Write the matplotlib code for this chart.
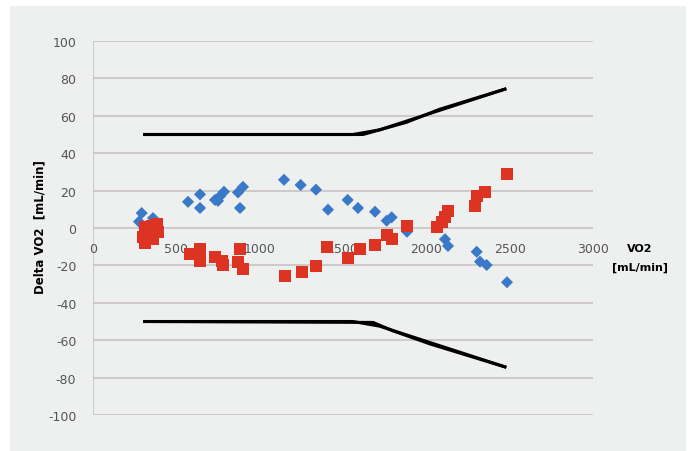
import matplotlib
matplotlib.use("Agg")
import matplotlib.pyplot as plt
from matplotlib.patches import Rectangle

# ── data ─────────────────────────────────────────────────────────────────────
blue_x = [292, 276, 360, 570, 642, 642, 732, 762, 786, 750, 870, 900, 882,
          1146, 1246, 1338, 1410, 1528, 1590, 1692, 1762, 1792, 1884,
          2112, 2130, 2302, 2322, 2362, 2484]
blue_y = [8, 3.4, 5.3, 14, 18, 10.7, 15, 17, 19.4, 14.5, 19, 22, 10.7,
          25.8, 23, 20.5, 9.8, 15, 10.7, 8.7, 3.9, 5.7, -2,
          -6, -9.6, -12.7, -18, -19.8, -29]

red_x = [300, 312, 354, 384, 390, 360, 330, 312,
         582, 642, 642, 732, 774, 780, 882, 870, 900,
         1152, 1252, 1338, 1402, 1530, 1602, 1692, 1762, 1792, 1884,
         2062, 2092, 2112, 2130, 2292, 2302, 2352, 2482]
red_y = [-5, -8, 1, 2, -2, -6, -1.6, 0.5,
         -14, -11, -17.5, -15.7, -17.6, -19.8, -11, -18, -22,
         -25.5, -23.5, -20.5, -10, -16, -11, -9, -4, -6, 1.2,
         0.5, 3, 5.8, 9.3, 12, 17, 19, 29]

# limit lines (two nearly overlapping traces each)
upper_a_x = [300, 1560, 1720, 2480]
upper_a_y = [50, 50, 52.5, 74.5]
upper_b_x = [300, 1620, 1880, 2080, 2480]
upper_b_y = [50, 50, 56.5, 63.5, 74.5]
lower_a_x = [300, 1560, 1720, 2480]
lower_a_y = [-50, -50, -52.5, -74.5]
lower_b_x = [300, 1680, 1800, 2022, 2480]
lower_b_y = [-50, -50.5, -55, -62, -74.5]

x_ticks = [0, 500, 1000, 1500, 2000, 2500, 3000]
y_ticks = [-100, -80, -60, -40, -20, 0, 20, 40, 60, 80, 100]

BG = "#eeefef"
GRID = "#c9c3c3"
TICK = "#555555"

fig = plt.figure(figsize=(6.91, 4.52), dpi=100)
fig.patch.set_facecolor("white")
fig.patches.append(Rectangle((10 / 691, 0), 676 / 691, 445 / 452, transform=fig.transFigure,
                             facecolor=BG, edgecolor="none", zorder=-10))

ax = fig.add_axes([93 / 691, 36 / 452, 500 / 691, 374 / 452])
ax.set_facecolor("none")
ax.set_xlim(0, 3000)
ax.set_ylim(-100, 100)

for y in y_ticks:
    ax.axhline(y, color=GRID, lw=1.2, zorder=0)
ax.axvline(0, color=GRID, lw=1.2, zorder=0)
for sp in ax.spines.values():
    sp.set_visible(False)

for lx, ly in [(upper_a_x, upper_a_y), (upper_b_x, upper_b_y),
               (lower_a_x, lower_a_y), (lower_b_x, lower_b_y)]:
    ax.plot(lx, ly, color="black", lw=2.2, solid_capstyle="butt", zorder=2)

ax.scatter(blue_x, blue_y, marker="D", s=38, color="#3a78c8", edgecolor="none", zorder=3)
ax.scatter(red_x, red_y, marker="s", s=75, color="#dd3322", edgecolor="none", zorder=4)

ax.set_yticks(y_ticks)
ax.set_yticklabels([str(v) for v in y_ticks], fontsize=9, color=TICK)
ax.tick_params(axis="y", length=0, pad=12)
ax.set_xticks([])
for xv in x_ticks:
    ax.text(xv, -11, str(xv), ha="center", va="center", fontsize=9, color=TICK, zorder=1)

ax.text(3282, -10.7, "VO2", ha="center", va="center", fontsize=8, fontweight="bold")
ax.text(3282, -21, "[mL/min]", ha="center", va="center", fontsize=8, fontweight="bold")
fig.text(40 / 691, 1 - 227 / 452, "Delta VO2  [mL/min]", rotation=90,
         ha="center", va="center", fontsize=8.5, fontweight="bold")

plt.savefig("out.png", dpi=100, facecolor="white")
